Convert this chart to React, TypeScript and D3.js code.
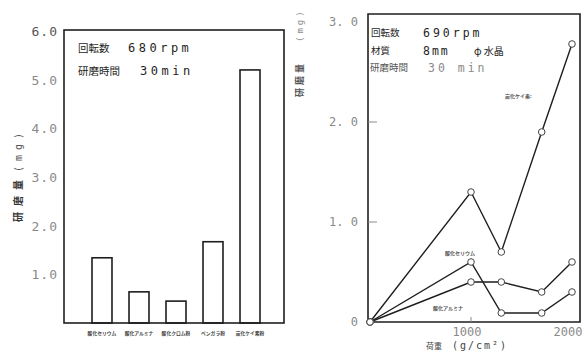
import React from "react";
import * as d3 from "d3";

// 左: 研磨材ごとの研磨量
const materials = ["酸化セリウム", "酸化アルミナ", "酸化クロム粉", "ベンガラ粉", "炭化ケイ素粉"];
const polishAmount = [1.34, 0.64, 0.45, 1.67, 5.2];
const leftTicks = ["1.0", "2.0", "3.0", "4.0", "5.0", "6.0"];

// 右: 荷重と研磨量
const loads = [0, 1000, 1300, 1700, 2000];
const seriesNames = ["炭化ケイ素:", "酸化セリウム", "酸化アルミナ"];
const seriesTop = [0, 1.3, 0.7, 1.9, 2.78];
const seriesMid = [0, 0.6, 0.09, 0.09, 0.3];
const seriesLow = [0, 0.4, 0.4, 0.3, 0.6];
const rightTicks = ["0", "1. 0", "2. 0", "3. 0"];
const loadTicks = ["1000", "2000"];

const ink = "#1e1e1e";
const faded = "#8a8a8a";
const jp = "'Noto Sans CJK JP', sans-serif";
const mono = "'DejaVu Sans Mono', monospace";

export default function App() {
  // left panel scales
  const xL = d3.scaleBand<string>().domain(materials).range([83.5, 268.5]).paddingInner(0.46).paddingOuter(0.23);
  const yL = d3.scaleLinear().domain([0, 6]).range([323, 31]);

  // right panel scales
  const xR = d3.scaleLinear().domain([0, 2000]).range([370, 572]);
  const yR = d3.scaleLinear().domain([0, 3]).range([322, 22]);
  const line = d3.line<number>().x((_, i) => xR(loads[i])).y((d) => yR(d));
  const allSeries = [seriesTop, seriesMid, seriesLow];
  const labelPos = [
    { x: 505, y: 98 },
    { x: 445, y: 255 },
    { x: 433, y: 310 },
  ];

  return (
    <svg width={585} height={353} style={{ position: "absolute", left: 0, top: 0, background: "#fff" }}>
      {/* ---- left chart ---- */}
      <rect x={64} y={30} width={220} height={293} fill="none" stroke={ink} strokeWidth={1.6} />
      {leftTicks.map((t) => (
        <text key={t} x={58} y={yL(+t) + 5} textAnchor="end" fontFamily={mono} fontSize={13} letterSpacing={1}
          fill={t === "6.0" ? "#555" : faded}>
          {t}
        </text>
      ))}
      {materials.map((m, i) => (
        <rect key={m} x={xL(m)} y={yL(polishAmount[i])} width={xL.bandwidth()} height={yL(0) - yL(polishAmount[i])}
          fill="none" stroke={ink} strokeWidth={1.6} />
      ))}
      {materials.map((m) => (
        <text key={m} x={xL(m)! + xL.bandwidth() / 2} y={335} textAnchor="middle" fontFamily={jp} fontSize={4.8}
          fontWeight={700} fill="#444">
          {m}
        </text>
      ))}
      <text x={78} y={52} fontFamily={jp} fontSize={10.5} fill={ink}>回転数</text>
      <text x={128} y={52} fontFamily={mono} fontSize={12} letterSpacing={3.5} fill={ink}>680rpm</text>
      <text x={78} y={75} fontFamily={jp} fontSize={10.5} fill={ink}>研磨時間</text>
      <text x={140} y={75} fontFamily={mono} fontSize={12} letterSpacing={3.5} fill={ink}>30min</text>
      <text transform="translate(22,222) rotate(-90)" fontFamily={jp} fontSize={10} fontWeight={700}
        letterSpacing={6} fill="#333">
        研磨量
      </text>
      <text transform="translate(22,172) rotate(-90)" fontFamily={mono} fontSize={10} letterSpacing={5} fill="#555">
        (mg)
      </text>

      {/* ---- right chart ---- */}
      <path d="M368,14 H580 V322 H368 Z" fill="none" stroke={ink} strokeWidth={1.6} />
      {rightTicks.map((t) => (
        <text key={t} x={358} y={yR(parseFloat(t.replace(" ", ""))) + 4} textAnchor="end" fontFamily={mono}
          fontSize={12} fill={faded}>
          {t}
        </text>
      ))}
      {[1, 2].map((v) => (
        <line key={v} x1={368} x2={377} y1={yR(v)} y2={yR(v)} stroke={faded} strokeWidth={1} />
      ))}
      {loadTicks.map((t) => (
        <text key={t} x={xR(+t) - 4} y={336} textAnchor="middle" fontFamily={mono} fontSize={12} fill={faded}>
          {t}
        </text>
      ))}
      <line x1={xR(1000)} x2={xR(1000)} y1={322} y2={317} stroke={faded} />
      {allSeries.map((s, k) => (
        <path key={k} d={line(s) ?? ""} fill="none" stroke={ink} strokeWidth={1.4} />
      ))}
      {allSeries.map((s, k) =>
        s.map((v, i) => (
          <circle key={`${k}-${i}`} cx={xR(loads[i])} cy={yR(v)} r={3.3} fill="#fff" stroke="#444" strokeWidth={1} />
        ))
      )}
      {seriesNames.map((n, k) => (
        <text key={n} x={labelPos[k].x} y={labelPos[k].y} fontFamily={jp} fontSize={5} fontWeight={700} fill="#555">
          {n}
        </text>
      ))}
      <text x={371} y={36} fontFamily={jp} fontSize={9.5} fill={ink}>回転数</text>
      <text x={423} y={37} fontFamily={mono} fontSize={11.5} letterSpacing={3} fill={ink}>690rpm</text>
      <text x={371} y={54} fontFamily={jp} fontSize={9.5} fill={ink}>材質</text>
      <text x={423} y={55} fontFamily={mono} fontSize={11.5} letterSpacing={2} fill={ink}>8mm</text>
      <text x={474} y={55} fontFamily={jp} fontSize={10} fill={ink}>φ 水晶</text>
      <text x={370} y={71} fontFamily={jp} fontSize={9.5} fill="#555">研磨時間</text>
      <text x={428} y={72} fontFamily={mono} fontSize={11.5} letterSpacing={3} fill={faded}>30 min</text>
      <text x={426} y={349} fontFamily={jp} fontSize={8} fill="#444">荷重</text>
      <text x={452} y={349} fontFamily={mono} fontSize={10} letterSpacing={2} fill="#444">(g/cm²)</text>
      <text transform="translate(303,97) rotate(-90)" fontFamily={jp} fontSize={9} fontWeight={700}
        letterSpacing={3} fill="#555">
        研磨量
      </text>
      <text transform="translate(303,42) rotate(-90)" fontFamily={mono} fontSize={9} letterSpacing={3} fill={faded}>
        (mg)
      </text>
    </svg>
  );
}
